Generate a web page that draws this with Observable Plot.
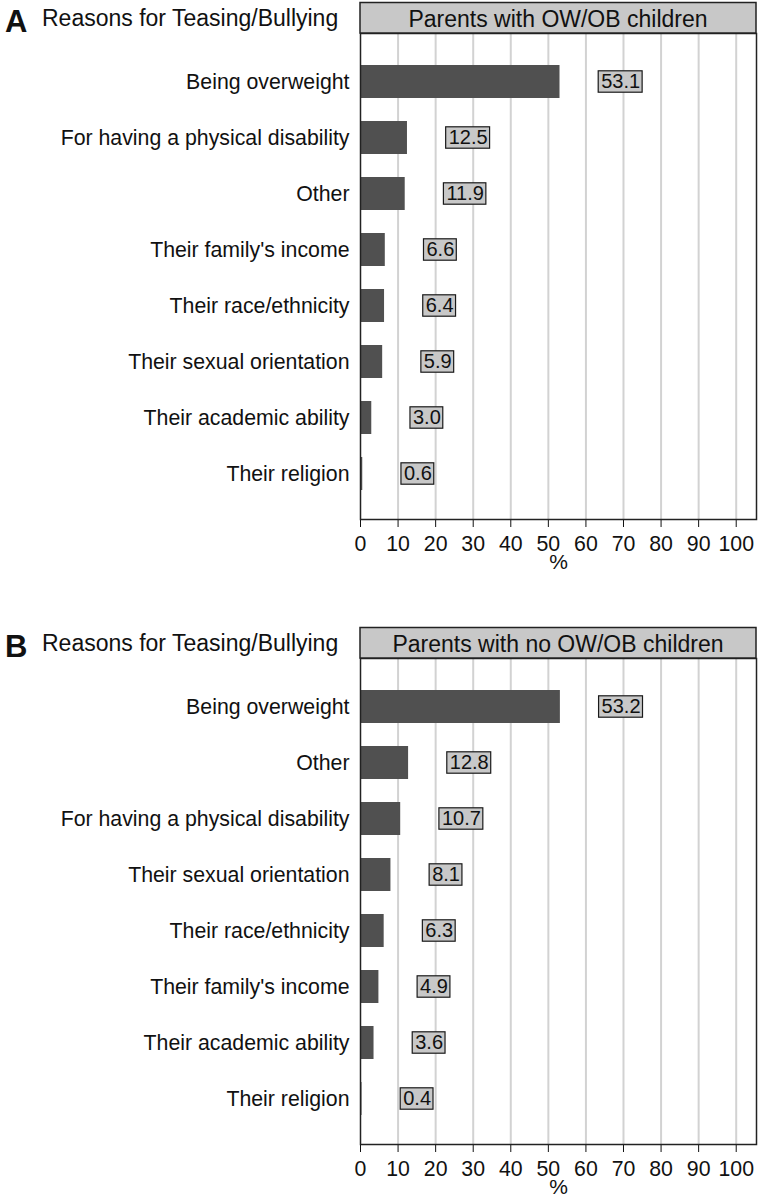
<!DOCTYPE html>
<html><head><meta charset="utf-8">
<script src="https://cdn.jsdelivr.net/npm/d3@7"></script>
<script src="https://cdn.jsdelivr.net/npm/@observablehq/plot@0.6"></script>
<style>
body{margin:0;background:#fff;font-family:"Liberation Sans",Arial,sans-serif;}
#wrap{position:relative;width:760px;height:1202px;overflow:hidden;background:#fff;}
.panel{position:absolute;left:0;}
</style></head><body><div id="wrap"></div>
<script>
const categoriesA = ["Being overweight","For having a physical disability","Other","Their family's income","Their race/ethnicity","Their sexual orientation","Their academic ability","Their religion"];
const valuesA = [53.1, 12.5, 11.9, 6.6, 6.4, 5.9, 3.0, 0.6];
const categoriesB = ["Being overweight","Other","For having a physical disability","Their sexual orientation","Their race/ethnicity","Their family's income","Their academic ability","Their religion"];
const valuesB = [53.2, 12.8, 10.7, 8.1, 6.3, 4.9, 3.6, 0.4];
const panelLetters = ["A", "B"];
const panelTitle = "Reasons for Teasing/Bullying";
const groupTitles = ["Parents with OW/OB children", "Parents with no OW/OB children"];
const xTicks = [0, 10, 20, 30, 40, 50, 60, 70, 80, 90, 100];
const xLabel = "%";

const FONT = '"Liberation Sans", Arial, sans-serif';
const wrap = document.getElementById("wrap");
const ctx = document.createElement("canvas").getContext("2d");
ctx.font = '20px "Liberation Sans", Arial, sans-serif';
const textWidth = s => ctx.measureText(s).width;

const WIDTH = 760, ML = 360, MR = 4, XMAX = 105.4;
const pxPerUnit = (WIDTH - ML - MR) / XMAX;

function panel(cats, vals, letter, group, top) {
  const LABEL_OFFSET = 10.3;
  const data = cats.map((c, i) => {
    const label = vals[i].toFixed(1);
    const x1 = vals[i] + LABEL_OFFSET;
    return {reason: c, pct: vals[i], label, lx1: x1, lx2: x1 + (textWidth(label) + 5) / pxPerUnit};
  });
  const chart = Plot.plot({
    width: WIDTH, height: 578,
    marginTop: 33, marginBottom: 59, marginLeft: ML, marginRight: MR,
    style: {fontFamily: FONT, fontSize: "21.3px", color: "#111", background: "white"},
    x: {domain: [0, XMAX], ticks: xTicks, tickSize: 8, tickPadding: 8, label: null},
    y: {domain: cats, paddingInner: 0.41, paddingOuter: 0.4985, align: 0.53, tickSize: 0, tickPadding: 11, label: null},
    marks: [
      Plot.gridX(xTicks.filter(d => d > 0), {stroke: "#d2d2d2", strokeOpacity: 1, strokeWidth: 2}),
      Plot.barX(data, {x: "pct", y: "reason", fill: "#505050"}),
      Plot.rect(data, {x1: "lx1", x2: "lx2", y: "reason", insetTop: 5.8, insetBottom: 5.8, fill: "#c8c8c8", stroke: "#1a1a1a", strokeWidth: 1.2}),
      Plot.text(data, {x: "lx1", y: "reason", text: "label", textAnchor: "start", dx: 2.5, fontSize: 20, fill: "#111"}),
      Plot.frame({stroke: "#222", strokeWidth: 1.5}),
      Plot.text([xLabel], {text: d => d, frameAnchor: "bottom", dy: 49, fontSize: 21, fill: "#111"})
    ]
  });
  const div = document.createElement("div");
  div.className = "panel";
  div.style.top = top + "px";
  div.appendChild(chart);
  wrap.appendChild(div);

  const svg = d3.select(chart);
  const [x0, x1] = chart.scale("x").range;
  svg.append("rect").attr("x", x0).attr("y", 2.5).attr("width", x1 - x0).attr("height", 30.5)
    .attr("fill", "#c8c8c8").attr("stroke", "#222").attr("stroke-width", 1.5);
  svg.append("text").attr("x", (x0 + x1) / 2).attr("y", 26.5).attr("text-anchor", "middle")
    .attr("font-size", 23).attr("fill", "#111").text(group);
  svg.append("text").attr("x", 5).attr("y", 32).attr("text-anchor", "start").attr("font-weight", "bold")
    .attr("font-size", 31).attr("fill", "#111").text(letter);
  svg.append("text").attr("x", 42).attr("y", 26).attr("text-anchor", "start").attr("font-size", 23)
    .attr("fill", "#111").text(panelTitle);
}

panel(categoriesA, valuesA, panelLetters[0], groupTitles[0], 0);
panel(categoriesB, valuesB, panelLetters[1], groupTitles[1], 625);
</script></body></html>
